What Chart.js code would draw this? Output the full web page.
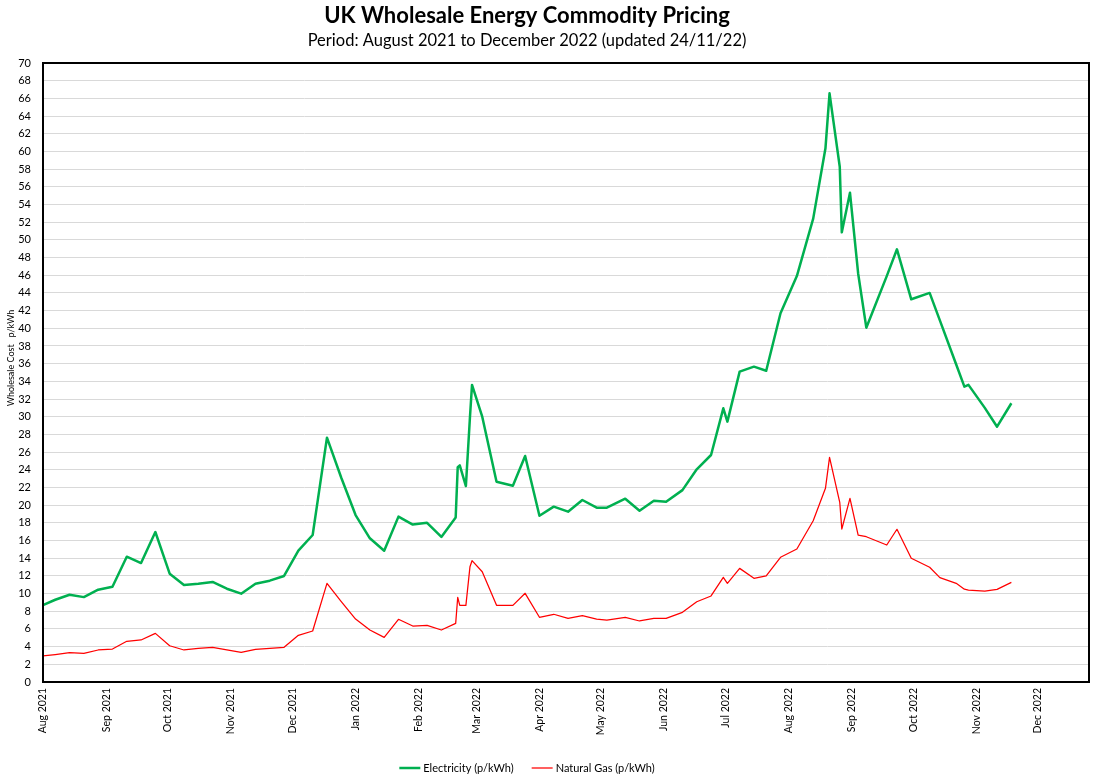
<!DOCTYPE html>
<html>
<head>
<meta charset="utf-8">
<title>UK Wholesale Energy Commodity Pricing</title>
<script src="https://cdn.jsdelivr.net/npm/chart.js@4.4.0/dist/chart.umd.min.js"></script>
<style>
  html, body { margin: 0; padding: 0; background: #fff; }
  canvas { display: block; }
</style>
</head>
<body>
<canvas id="priceChart" width="1095" height="777"></canvas>
<script>
// Datos (p/kWh)
const dates = [
  '2021-08-01', '2021-08-07', '2021-08-14', '2021-08-21', '2021-08-28',
  '2021-09-04', '2021-09-11', '2021-09-18', '2021-09-25',
  '2021-10-02', '2021-10-09', '2021-10-16', '2021-10-23', '2021-10-30',
  '2021-11-06', '2021-11-13', '2021-11-20', '2021-11-27',
  '2021-12-04', '2021-12-11', '2021-12-18', '2021-12-25',
  '2022-01-01', '2022-01-08', '2022-01-15', '2022-01-22', '2022-01-29',
  '2022-02-05', '2022-02-12', '2022-02-19', '2022-02-20', '2022-02-21',
  '2022-02-24', '2022-02-26', '2022-02-27',
  '2022-03-04', '2022-03-11', '2022-03-19', '2022-03-25',
  '2022-04-01', '2022-04-08', '2022-04-15', '2022-04-22', '2022-04-29',
  '2022-05-04', '2022-05-13', '2022-05-20', '2022-05-27',
  '2022-06-02', '2022-06-10', '2022-06-17', '2022-06-24', '2022-06-30',
  '2022-07-02', '2022-07-08', '2022-07-15', '2022-07-21', '2022-07-28',
  '2022-08-05', '2022-08-13', '2022-08-19', '2022-08-21', '2022-08-26',
  '2022-08-27', '2022-08-31',
  '2022-09-04', '2022-09-08', '2022-09-18', '2022-09-23', '2022-09-30',
  '2022-10-09', '2022-10-14', '2022-10-22', '2022-10-26', '2022-10-28',
  '2022-11-05', '2022-11-11', '2022-11-18'
];

const electricity = [
  8.7, 9.3, 9.87, 9.6, 10.44,
  10.78, 14.17, 13.45, 16.96,
  12.25, 10.97, 11.12, 11.31, 10.55,
  9.99, 11.12, 11.46, 11.99,
  14.85, 16.62, 27.63, 23.1,
  18.88, 16.25, 14.85, 18.7, 17.8,
  18.0, 16.4, 18.6, 24.3, 24.5,
  22.16, 30.0, 33.6,
  30.0, 22.65, 22.2, 25.56,
  18.8, 19.83, 19.26, 20.58, 19.71,
  19.71, 20.73, 19.37, 20.5,
  20.39, 21.7, 24.05, 25.67, 30.95,
  29.44, 35.1, 35.66, 35.2, 41.7,
  45.9, 52.4, 60.35, 66.57, 58.27,
  50.85, 55.33,
  46.2, 40.07, 45.9, 48.93, 43.28,
  44.0, 40.9, 35.9, 33.4, 33.6,
  31.0, 28.87, 31.52
];

const naturalGas = [
  2.94, 3.1, 3.31, 3.24, 3.62,
  3.73, 4.6, 4.75, 5.5,
  4.1, 3.62, 3.81, 3.92, 3.62,
  3.35, 3.7, 3.81, 3.92,
  5.28, 5.77, 11.16, 9.1,
  7.12, 5.88, 5.05, 7.09, 6.33,
  6.41, 5.88, 6.63, 9.58, 8.67,
  8.67, 13.04, 13.72,
  12.47, 8.67, 8.67, 10.03,
  7.32, 7.66, 7.2, 7.5, 7.12,
  7.01, 7.32, 6.9, 7.2,
  7.2, 7.88, 9.08, 9.73, 11.84,
  11.16, 12.85, 11.72, 12.0, 14.1,
  15.04, 18.24, 21.9, 25.41, 20.32,
  17.3, 20.77,
  16.62, 16.43, 15.49, 17.27, 13.99,
  12.97, 11.8, 11.16, 10.5, 10.4,
  10.29, 10.48, 11.27
];

const tickDates = [
  '2021-08-01', '2021-09-01', '2021-10-01', '2021-11-01', '2021-12-01',
  '2022-01-01', '2022-02-01', '2022-03-01', '2022-04-01', '2022-05-01',
  '2022-06-01', '2022-07-01', '2022-08-01', '2022-09-01', '2022-10-01',
  '2022-11-01', '2022-12-01'
];
const tickLabels = [
  'Aug 2021', 'Sep 2021', 'Oct 2021', 'Nov 2021', 'Dec 2021',
  'Jan 2022', 'Feb 2022', 'Mar 2022', 'Apr 2022', 'May 2022',
  'Jun 2022', 'Jul 2022', 'Aug 2022', 'Sep 2022', 'Oct 2022',
  'Nov 2022', 'Dec 2022'
];
const axisStart = '2021-08-01';
const axisEnd = '2022-12-26';

const FONT = 'Lato, "Open Sans", sans-serif';

// días desde el inicio del eje
function dayNumber(iso) {
  const toUtc = s => {
    const [y, m, d] = s.split('-').map(Number);
    return Date.UTC(y, m - 1, d);
  };
  return (toUtc(iso) - toUtc(axisStart)) / 86400000;
}

function toPoints(values) {
  return values.map((v, i) => ({ x: dayNumber(dates[i]), y: v }));
}

// Marco, títulos y leyenda al estilo de Excel
const chartDecor = {
  id: 'chartDecor',
  afterDatasetsDraw(chart) {
    const { ctx, chartArea: a } = chart;
    ctx.save();
    ctx.strokeStyle = '#000';
    ctx.lineWidth = 2;
    ctx.strokeRect(a.left, a.top, a.right - a.left, a.bottom - a.top);
    ctx.restore();
  },
  afterDraw(chart) {
    const ctx = chart.ctx;
    const cx = 527;
    ctx.save();
    ctx.fillStyle = '#000';
    ctx.textAlign = 'center';
    ctx.textBaseline = 'alphabetic';
    ctx.font = 'bold 22px ' + FONT;
    ctx.fillText('UK Wholesale Energy Commodity Pricing', cx, 23);
    ctx.font = '16.5px ' + FONT;
    ctx.fillText('Period: August 2021 to December 2022 (updated 24/11/22)', cx, 46);

    // título del eje Y
    ctx.save();
    ctx.translate(11, 358);
    ctx.rotate(-Math.PI / 2);
    ctx.font = '9px ' + FONT;
    ctx.textBaseline = 'middle';
    ctx.fillText('Wholesale Cost   p/kWh', 0, 0);
    ctx.restore();

    // leyenda
    ctx.font = '11px ' + FONT;
    ctx.textAlign = 'left';
    ctx.textBaseline = 'middle';
    const lineLen = 21, gap = 3, itemGap = 18, ly = 768;
    const items = chart.data.datasets.map(ds => ({
      ds, w: lineLen + gap + ctx.measureText(ds.label).width
    }));
    const total = items.reduce((s, it) => s + it.w, 0) + itemGap * (items.length - 1);
    let x = cx - total / 2;
    items.forEach(it => {
      ctx.strokeStyle = it.ds.borderColor;
      ctx.lineWidth = it.ds.borderWidth;
      ctx.beginPath();
      ctx.moveTo(x, ly);
      ctx.lineTo(x + lineLen, ly);
      ctx.stroke();
      ctx.fillText(it.ds.label, x + lineLen + gap, ly);
      x += it.w + itemGap;
    });
    ctx.restore();
  }
};

new Chart(document.getElementById('priceChart'), {
  type: 'line',
  data: {
    datasets: [
      {
        label: 'Electricity (p/kWh)',
        data: toPoints(electricity),
        borderColor: '#00B050',
        borderWidth: 2.5,
        borderJoinStyle: 'round',
        pointRadius: 0,
        tension: 0
      },
      {
        label: 'Natural Gas (p/kWh)',
        data: toPoints(naturalGas),
        borderColor: '#FF0000',
        borderWidth: 1.25,
        borderJoinStyle: 'round',
        pointRadius: 0,
        tension: 0
      }
    ]
  },
  options: {
    responsive: false,
    animation: false,
    layout: { padding: { top: 63, right: 6, left: 0, bottom: 0 } },
    plugins: {
      legend: { display: false },
      title: { display: false },
      tooltip: { enabled: false }
    },
    scales: {
      x: {
        type: 'linear',
        min: 0,
        max: dayNumber(axisEnd),
        grid: { display: false, drawTicks: false },
        border: { display: false },
        afterBuildTicks: scale => {
          scale.ticks = tickDates.map(d => ({ value: dayNumber(d) }));
        },
        afterFit: scale => { scale.height = 95; },
        ticks: {
          autoSkip: false,
          minRotation: 90,
          maxRotation: 90,
          padding: 6,
          color: '#000',
          font: { family: FONT, size: 10.5 },
          callback: (value, index) => tickLabels[index]
        }
      },
      y: {
        min: 0,
        max: 70,
        grid: { color: '#d9d9d9', drawTicks: false },
        border: { display: false },
        afterFit: scale => { scale.width = 43; },
        ticks: {
          stepSize: 2,
          padding: 12,
          color: '#000',
          font: { family: FONT, size: 11 }
        }
      }
    }
  },
  plugins: [chartDecor]
});
</script>
</body>
</html>
